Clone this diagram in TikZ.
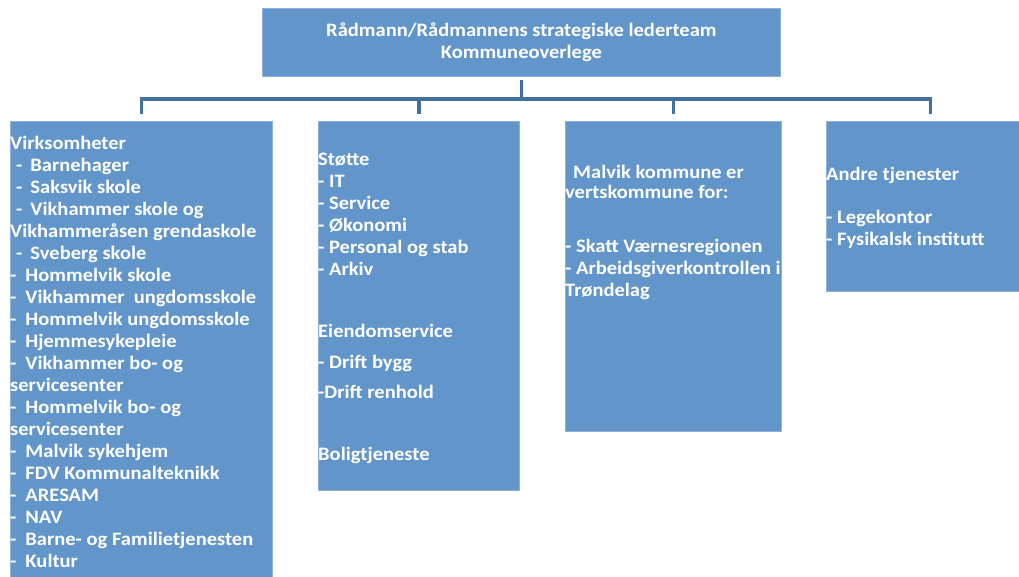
\documentclass[tikz,border=0pt]{standalone}
\usepackage{fontspec}
\setmainfont{Carlito}[FakeStretch=1.08]
\usetikzlibrary{positioning}
\definecolor{boxblue}{HTML}{6295C9}
\definecolor{boxedge}{HTML}{8DB1D9}
\definecolor{linkblue}{HTML}{41719C}
\tikzset{
  unitbox/.style={rectangle, draw=boxedge, fill=boxblue, line width=0.8pt,
                  anchor=north west, inner sep=0pt},
  unittext/.style={anchor=north west, inner sep=0pt, text=white, align=left,
                   font=\bfseries\fontsize{19}{22}\selectfont},
  link/.style={draw=linkblue, line width=3.5pt, line cap=rect}
}
\begin{document}
\begin{tikzpicture}[x=1pt,y=-1pt]
\useasboundingbox (0,0) rectangle (1019,576);
% top level
\node[unitbox, minimum width=518pt, minimum height=68pt] (leder) at (262,8) {};
\node[unittext, anchor=center, align=center] (ledertxt) at (leder.center)
  {Rådmann/Rådmannens strategiske lederteam\\Kommuneoverlege};
% units
\node[unitbox, minimum width=262pt, minimum height=470pt] (virk) at (10,121) {};
\node[unitbox, minimum width=201pt, minimum height=369pt] (stotte) at (318,121) {};
\node[unitbox, minimum width=216pt, minimum height=310pt] (vert) at (565,121) {};
\node[unitbox, minimum width=208pt, minimum height=170pt] (andre) at (826,121) {};
% connectors
\path (leder.south) ++(0,22) coordinate (hub);
\draw[link, shorten <=5pt] (leder.south) -- (hub);
\draw[link] (virk.north |- hub) -- (andre.north |- hub);
\foreach \unit in {virk, stotte, vert, andre}
  \draw[link, shorten >=9pt] (\unit.north |- hub) -- (\unit.north);
% texts
\node[unittext] (virktxt) at (10,136) {Virksomheter\\
  \hspace*{6pt}-\hspace{8pt}Barnehager\\
  \hspace*{6pt}-\hspace{8pt}Saksvik skole\\
  \hspace*{6pt}-\hspace{8pt}Vikhammer skole og\\
  Vikhammeråsen grendaskole\\
  \hspace*{6pt}-\hspace{8pt}Sveberg skole\\
  -\hspace{9pt}Hommelvik skole\\
  -\hspace{9pt}Vikhammer\ \ ungdomsskole\\
  -\hspace{9pt}Hommelvik ungdomsskole\\
  -\hspace{9pt}Hjemmesykepleie\\
  -\hspace{9pt}Vikhammer bo- og\\
  servicesenter\\
  -\hspace{9pt}Hommelvik bo- og\\
  servicesenter\\
  -\hspace{9pt}Malvik sykehjem\\
  -\hspace{9pt}FDV Kommunalteknikk\\
  -\hspace{9pt}ARESAM\\
  -\hspace{9pt}NAV\\
  -\hspace{9pt}Barne- og Familietjenesten\\
  -\hspace{9pt}Kultur};
\node[unittext] (stottetxt) at (318,153) {Støtte\\
  - IT\\
  - Service\\
  - Økonomi\\
  - Personal og stab\\
  - Arkiv\\[40pt]
  Eiendomservice\\[9pt]
  - Drift bygg\\[8pt]
  -Drift renhold\\[40pt]
  Boligtjeneste};
\node[unittext] (verttxt) at (565,165) {\hspace*{8pt}Malvik kommune er\\[-2pt]
  vertskommune for:\\[32pt]
  - Skatt Værnesregionen\\
  - Arbeidsgiverkontrollen i\\
  Trøndelag};
\node[unittext] (andretxt) at (826,167) {Andre tjenester\\[21pt]
  - Legekontor\\
  - Fysikalsk institutt};
\end{tikzpicture}
\end{document}
